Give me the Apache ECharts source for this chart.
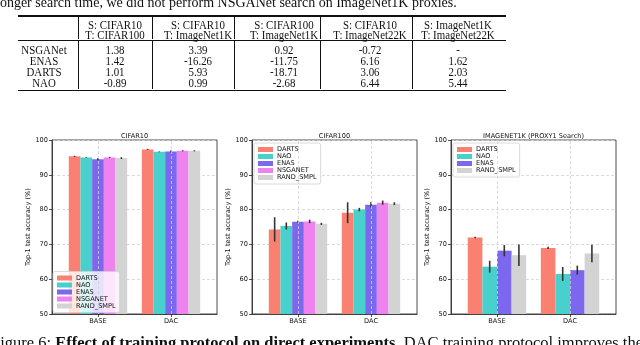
<!DOCTYPE html>
<html>
<head>
<meta charset="utf-8">
<script src="https://cdn.jsdelivr.net/npm/echarts@6/dist/echarts.min.js"></script>
<style>
    html, body { margin: 0; padding: 0; background: #fff; }
    body { width: 640px; height: 345px; position: relative; overflow: hidden; font-family: 'Liberation Serif', serif; color: #111; }
    #chart { position: absolute; left: 0; top: 0; width: 640px; height: 345px; }
    .t { position: absolute; white-space: nowrap; font-size: 12.5px; line-height: 12px; transform: translate(-50%, -50%) scaleX(0.87); }
    .rule { position: absolute; background: #111; }
    .cap { position: absolute; white-space: nowrap; font-size: 14px; line-height: 14px; }
    .cap.big { font-size: 16.5px; line-height: 16.5px; }
</style>
</head>
<body>
<div id="chart"></div>
<div id="table"></div>
<div class="cap" style="left:-4px;top:-4.5px">longer search time, we did not perform NSGANet search on ImageNet1K proxies.</div>
<div class="cap big" style="left:-9px;top:335px">Figure 6: <b>Effect of training protocol on direct experiments.</b> DAC training protocol improves the</div>
<script>
// table values
const headS = ['S: CIFAR10', 'S: CIFAR10', 'S: CIFAR100', 'S: CIFAR10', 'S: ImageNet1K'];
const headT = ['T: CIFAR100', 'T: ImageNet1K', 'T: ImageNet1K', 'T: ImageNet22K', 'T: ImageNet22K'];
const rowNames = ['NSGANet', 'ENAS', 'DARTS', 'NAO'];
const tableRows = [
    ['1.38', '3.39', '0.92', '-0.72', '-'],
    ['1.42', '-16.26', '-11.75', '6.16', '1.62'],
    ['1.01', '5.93', '-18.71', '3.06', '2.03'],
    ['-0.89', '0.99', '-2.68', '6.44', '5.44']
];

// chart values
const protocols = ['BASE', 'DAC'];
const methods = ['DARTS', 'NAO', 'ENAS', 'NSGANET', 'RAND_SMPL'];
const imagenetMethods = ['DARTS', 'NAO', 'ENAS', 'RAND_SMPL'];

const cifar10Base = [95.3, 95.0, 94.5, 95.0, 94.8];
const cifar10BaseErr = [0.15, 0.1, 0.3, 0.15, 0.25];
const cifar10Dac = [97.3, 96.6, 96.7, 96.9, 96.9];
const cifar10DacErr = [0.15, 0.1, 0.25, 0.15, 0.15];

const cifar100Base = [74.3, 75.3, 76.5, 76.6, 75.9];
const cifar100BaseErr = [3.5, 1.0, 0.3, 0.5, 0.3];
const cifar100Dac = [79.1, 80.0, 81.4, 82.0, 81.7];
const cifar100DacErr = [3.0, 0.5, 0.8, 0.6, 0.4];

const imagenetBase = [72.0, 63.6, 68.2, 66.9];
const imagenetBaseErr = [0.2, 1.7, 1.6, 3.1];
const imagenetDac = [69.0, 61.5, 62.6, 67.4];
const imagenetDacErr = [0.3, 2.0, 1.3, 2.5];

const colors = { DARTS: '#fa8072', NAO: '#48d1cc', ENAS: '#7b68ee', NSGANET: '#ee82ee', RAND_SMPL: '#d3d3d3' };

// ---- table ----
const colX = [44, 115, 198, 284, 370, 458];
const sepX = [78, 152, 234, 320, 412];
const rowY = [50, 61.3, 72.4, 83.4];
let html = '';
headS.forEach((s, j) => {
    html += `<div class="t" style="left:${colX[j + 1]}px;top:25px">${s}</div>`;
    html += `<div class="t" style="left:${colX[j + 1]}px;top:34.5px">${headT[j]}</div>`;
});
rowNames.forEach((name, i) => {
    html += `<div class="t" style="left:${colX[0]}px;top:${rowY[i]}px">${name}</div>`;
    tableRows[i].forEach((v, j) => {
        html += `<div class="t" style="left:${colX[j + 1]}px;top:${rowY[i]}px">${v}</div>`;
    });
});
html += '<div class="rule" style="left:18px;top:15.3px;width:488px;height:1.4px"></div>';
html += '<div class="rule" style="left:18px;top:39.6px;width:488px;height:0.8px"></div>';
html += '<div class="rule" style="left:18px;top:89.8px;width:488px;height:1.4px"></div>';
sepX.forEach(x => {
    html += `<div class="rule" style="left:${x}px;top:17px;width:0.8px;height:22px"></div>`;
    html += `<div class="rule" style="left:${x}px;top:41px;width:0.8px;height:48px"></div>`;
});
document.getElementById('table').innerHTML = html;

// ---- charts ----
const font = 'DejaVu Sans';
const panels = [
    { title: 'CIFAR10', names: methods, base: cifar10Base, baseErr: cifar10BaseErr, dac: cifar10Dac, dacErr: cifar10DacErr, left: 52, legend: { left: 53, top: 271.5 } },
    { title: 'CIFAR100', names: methods, base: cifar100Base, baseErr: cifar100BaseErr, dac: cifar100Dac, dacErr: cifar100DacErr, left: 252, legend: { left: 254, top: 143 } },
    { title: 'IMAGENET1K (PROXY1 Search)', names: imagenetMethods, base: imagenetBase, baseErr: imagenetBaseErr, dac: imagenetDac, dacErr: imagenetDacErr, left: 451, legend: { left: 453, top: 143 } }
];

const grid = [], xAxis = [], yAxis = [], series = [], legend = [], title = [];
const axisColor = '#222';
const gridLine = { color: '#d2d2d2', type: [3, 2], width: 0.8 };

panels.forEach((p, k) => {
    const n = p.names.length;
    grid.push({ left: p.left, top: 140, width: 165, height: 174, show: true, borderColor: axisColor, borderWidth: 0.8 });
    title.push({ text: p.title, left: p.left + 82.5, top: 132.5, textAlign: 'center', padding: 0,
        textStyle: { fontFamily: font, fontSize: 6.6, fontWeight: 'normal', color: '#111' } });
    xAxis.push({
        gridIndex: k, type: 'value', min: -0.63, max: 1.63,
        axisLine: { show: true, onZero: false, lineStyle: { color: axisColor, width: 0.8 } },
        axisTick: { show: true, length: 3, customValues: [0, 1], lineStyle: { color: axisColor, width: 0.8 } },
        axisLabel: { customValues: [0, 1], formatter: v => protocols[v], fontFamily: font, fontSize: 6.6, color: '#111', margin: 3.5 },
        splitLine: { show: false }
    });
    yAxis.push({
        gridIndex: k, type: 'value', min: 50, max: 100, interval: 10,
        name: 'Top-1 test accuracy (%)', nameLocation: 'middle', nameGap: 17,
        nameTextStyle: { fontFamily: font, fontSize: 6.6, color: '#111' },
        axisLine: { show: true, onZero: false, lineStyle: { color: axisColor, width: 0.8 } },
        axisTick: { show: true, length: 3, lineStyle: { color: axisColor, width: 0.8 } },
        axisLabel: { fontFamily: font, fontSize: 6.6, color: '#111', margin: 4 },
        splitLine: { show: true, lineStyle: gridLine }
    });
    legend.push({
        data: p.names, orient: 'vertical', left: p.legend.left, top: p.legend.top,
        itemWidth: 15, itemHeight: 5, itemGap: 0, icon: 'rect',
        padding: [3, 4, 3, 4], backgroundColor: 'rgba(255,255,255,0.8)',
        borderColor: '#d0d0d0', borderWidth: 0.8, borderRadius: 2,
        textStyle: { fontFamily: font, fontSize: 6.6, color: '#111', lineHeight: 6.5, padding: [0, 0, 0, -1] }
    });

    // vertical grid lines at the two protocols, drawn below the bars
    series.push({
        type: 'line', xAxisIndex: k, yAxisIndex: k, z: 1, data: [], silent: true,
        markLine: { silent: true, symbol: 'none', label: { show: false }, lineStyle: gridLine,
            data: protocols.map((_, c) => ({ xAxis: c })) }
    });

    p.names.forEach((name, i) => {
        series.push({
            type: 'bar', name, xAxisIndex: k, yAxisIndex: k, z: 2,
            barWidth: (80 / n) + '%', barGap: '0%',
            itemStyle: { color: colors[name] },
            data: [[0, p.base[i]], [1, p.dac[i]]]
        });
    });

    series.push({
        type: 'custom', xAxisIndex: k, yAxisIndex: k, z: 3, silent: true,
        encode: { x: 0, y: 1 },
        data: p.names.flatMap((_, i) => [[0, p.base[i], p.baseErr[i], i], [1, p.dac[i], p.dacErr[i], i]]),
        renderItem: (params, api) => {
            const x = api.value(0) + (api.value(3) - (n - 1) / 2) * 0.8 / n;
            const a = api.coord([x, api.value(1) - api.value(2)]);
            const b = api.coord([x, api.value(1) + api.value(2)]);
            return { type: 'line', shape: { x1: a[0], y1: a[1], x2: b[0], y2: b[1] }, style: { stroke: '#333', lineWidth: 1.6 } };
        }
    });
});

const chart = echarts.init(document.getElementById('chart'), null, { renderer: 'canvas' });
chart.setOption({ animation: false, title, grid, xAxis, yAxis, legend, series });
</script>
</body>
</html>
